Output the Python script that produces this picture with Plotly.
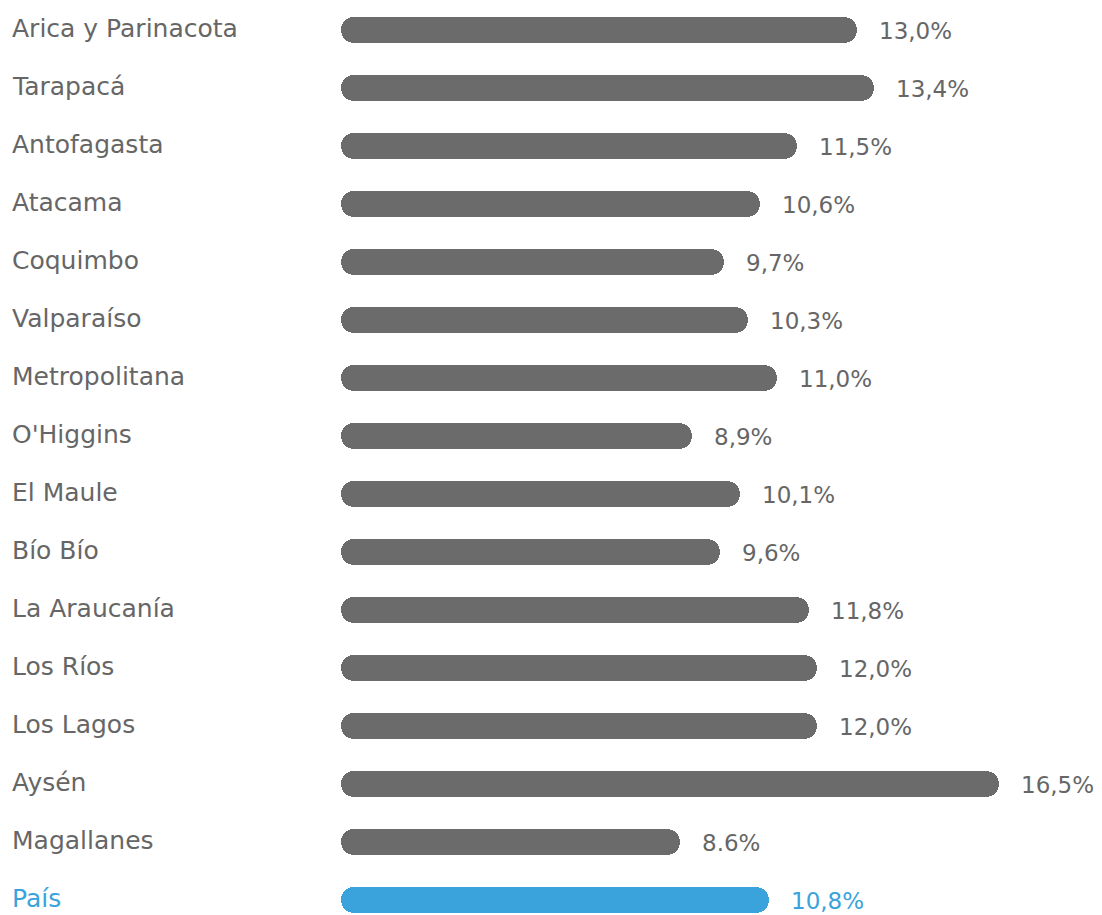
import plotly.graph_objects as go

regions = ["Arica y Parinacota", "Tarapacá", "Antofagasta", "Atacama", "Coquimbo",
           "Valparaíso", "Metropolitana", "O'Higgins", "El Maule", "Bío Bío",
           "La Araucanía", "Los Ríos", "Los Lagos", "Aysén", "Magallanes", "País"]
values = [13.0, 13.4, 11.5, 10.6, 9.7, 10.3, 11.0, 8.9, 10.1, 9.6,
          11.8, 12.0, 12.0, 16.5, 8.6, 10.8]
value_labels = ["13,0%", "13,4%", "11,5%", "10,6%", "9,7%", "10,3%", "11,0%", "8,9%",
                "10,1%", "9,6%", "11,8%", "12,0%", "12,0%", "16,5%", "8.6%", "10,8%"]

GRAY = "#6b6b6b"
BLUE = "#3aa3dc"
TXT = "#666666"
FONT = "DejaVu Sans"

n = len(regions)
ypos = list(range(n))
colors = [BLUE if r == "País" else GRAY for r in regions]
txt_colors = [BLUE if r == "País" else TXT for r in regions]

b_left = 0.222   # left edge of every bar (x units)

fig = go.Figure()
fig.add_trace(go.Bar(
    x=[v - b_left for v in values], y=ypos, base=b_left, orientation="h",
    marker=dict(color=colors, line=dict(width=0), cornerradius=13),
    width=0.448, hoverinfo="skip", showlegend=False,
))

for i, (r, v, lab) in enumerate(zip(regions, values, value_labels)):
    fig.add_annotation(x=0, xref="paper", y=i, yref="y", text=r, showarrow=False,
                       xanchor="left", xshift=-322, yshift=1,
                       font=dict(family=FONT, size=25, color=txt_colors[i]))
    fig.add_annotation(x=v, xref="x", y=i, yref="y", text=lab, showarrow=False,
                       xanchor="left", xshift=20, yshift=-1,
                       font=dict(family=FONT, size=23, color=txt_colors[i]))

fig.update_layout(
    width=1102, height=915,
    margin=dict(l=332, r=2, t=0, b=0),
    plot_bgcolor="white", paper_bgcolor="white",
    xaxis=dict(range=[0, 19], visible=False, fixedrange=True),
    yaxis=dict(range=[15.259, -0.517], visible=False, fixedrange=True),
    barmode="overlay", bargap=0,
)

fig.write_html("out.html", config={"displayModeBar": False},
               post_script="document.body.style.margin='0px';")
